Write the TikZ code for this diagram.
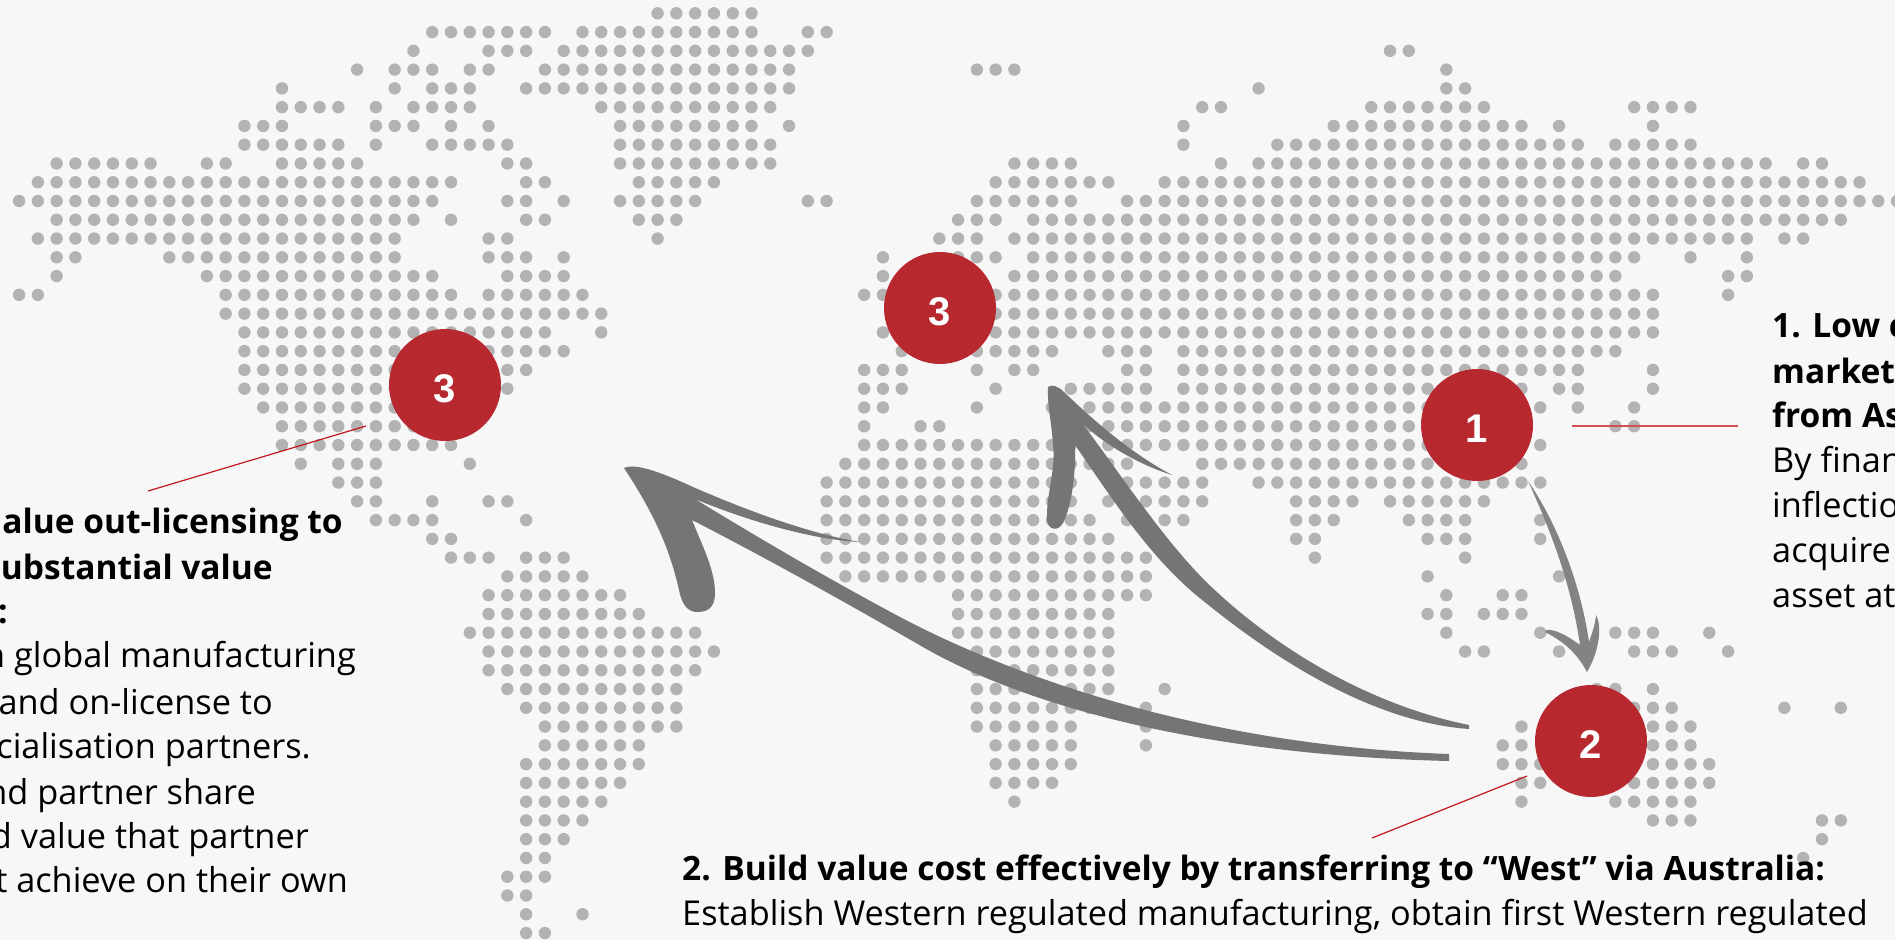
\documentclass[tikz,border=0pt]{standalone}
\usepackage{xcolor}
\usepackage{fontspec}
\setmainfont{Open Sans}
\newfontfamily\digitfont{Liberation Sans}
\definecolor{pagebg}{HTML}{F7F7F7}
\definecolor{mapgrey}{HTML}{B3B3B3}
\definecolor{inkgrey}{HTML}{757575}
\definecolor{bubblered}{HTML}{B7282F}
\definecolor{leadred}{HTML}{C4161F}
\begin{document}
\begin{tikzpicture}[x=1pt,y=-1pt,
    mapdot/.style={fill=mapgrey},
    stroke/.style={fill=inkgrey},
    bubble/.style={circle,fill=bubblered,text=white,inner sep=0pt,minimum size=112pt,text height=35pt,text depth=0pt,font=\digitfont\bfseries\fontsize{40}{40}\selectfont},
    leader/.style={draw=leadred,line width=1.2pt},
    headline/.style={inner sep=0pt,font=\bfseries\fontsize{33.5}{40}\selectfont},
    bodyline/.style={inner sep=0pt,font=\fontsize{34.3}{40}\selectfont}]
    %
    \useasboundingbox (0,0) rectangle (1895,940);
    \fill[pagebg] (0,0) rectangle (1895,940);
    %
    \foreach \r/\segs in {
        0/{34/39},
        1/{22/28,30/39,42/43},
        2/{21/21,25/27,29/42,73/74},
        3/{18/18,20/22,24/25,28/41,51/53,76/76},
        4/{14/14,20/20,22/24,27/41,66/66,76/77},
        5/{14/17,19/19,21/24,31/40,63/64,72/78,86/89},
        6/{12/14,19/21,23/23,25/25,32/39,41/41,62/62,70/80,82/82,87/87},
        7/{12/17,19/19,22/26,32/40,62/62,67/83,85/89},
        8/{2/7,10/11,14/18,26/27,32/40,53/56,64/64,66/93,95/96},
        9/{1/23,27/28,33/37,52/58,61/98},
        10/{0/22,26/27,29/29,32/36,42/43,51/56,59/100},
        11/{2/21,23/23,27/28,33/35,50/52,54/97},
        12/{1/20,25/26,34/34,49/51,53/92,94/95},
        13/{2/3,8/20,25/27,29/29,46/46,50/52,54/86,89/89,92/92},
        14/{2/2,10/22,26/29,46/46,53/85,91/92},
        15/{0/1,11/23,25/30,45/46,52/87,91/91},
        16/{11/31,52/87},
        17/{12/28,31/31,46/46,52/87},
        18/{12/29,47/47,51/55,58/60,62/85},
        19/{12/27,45/47,51/51,53/54,59/60,62/83,87/87},
        20/{12/26,45/47,52/52,56/60,62/80,82/83,87/87},
        21/{13/24,45/46,51/51,55/79,81/81,83/83,86/86},
        22/{14/22,45/45,48/49,56/78,85/86},
        23/{14/23,45/75,81/81},
        24/{15/15,17/19,24/24,44/59,63/80},
        25/{17/19,43/56,59/63,66/81},
        26/{18/19,22/22,25/26,43/56,58/63,68/71,73/78},
        27/{19/22,27/27,43/57,59/62,68/70,74/77,81/81},
        28/{22/23,43/58,68/69,75/77,81/81},
        29/{23/25,27/29,43/60,69/69,77/77},
        30/{26/30,44/60,75/75,82/82},
        31/{25/32,50/60,76/76,79/80},
        32/{25/33,50/58,75/76,78/80},
        33/{24/36,50/58,76/76,81/81,85/87,90/90},
        34/{25/37,51/58,77/78,82/82,86/88,91/91},
        35/{25/36,51/58},
        36/{26/35,51/58,61/61,84/85,87/87},
        37/{27/35,51/57,60/60,86/88,94/94,97/97},
        38/{28/35,51/56,60/60,80/80,87/89},
        39/{28/33,52/56,60/60,79/80,87/89},
        40/{27/33,52/56,79/81,87/90},
        41/{27/32,52/55,80/81,86/90},
        42/{27/31,53/53,80/80,85/89},
        43/{27/30,87/89,96/97},
        44/{27/29,96/96},
        45/{27/28,95/95},
        46/{26/28},
        47/{26/27},
        48/{27/27,30/30},
        49/{27/28}}
      \foreach \a/\b in \segs
        \foreach \c in {\a,...,\b}
          \fill[mapdot] ({19.07+18.78*\c},{13.3+18.77*\r}) circle (6.2);
    %
    % long stroke, Australia to America
    \fill[stroke] (624,468) .. controls (632,464) and (650,467) .. (693,487)
        .. controls (730,503) and (800,532) .. (860,542)
        .. controls (815,540) and (750,522) .. (695,499)
        .. controls (770,545) and (840,585) .. (900,617)
        .. controls (1010,675) and (1200,745) .. (1449,754) -- (1449,761)
        .. controls (1200,755) and (1020,705) .. (916,643)
        .. controls (850,605) and (770,560) .. (692,520)
        .. controls (702,545) and (715,570) .. (715,593)
        .. controls (715,610) and (705,612) .. (697,612)
        .. controls (688,612) and (682,605) .. (679,590)
        .. controls (670,550) and (655,515) .. (624,468) -- cycle;
    % short stroke, Australia to Europe
    \fill[stroke] (1048,387) .. controls (1052,384) and (1058,386) .. (1064,392)
        .. controls (1085,412) and (1125,450) .. (1172,475)
        .. controls (1140,465) and (1105,445) .. (1082,423)
        .. controls (1125,480) and (1170,550) .. (1218,593)
        .. controls (1280,650) and (1370,705) .. (1469,725) -- (1469,729)
        .. controls (1370,722) and (1270,655) .. (1206,603)
        .. controls (1150,560) and (1110,495) .. (1075,445)
        .. controls (1076,480) and (1070,510) .. (1063,523)
        .. controls (1058,532) and (1048,530) .. (1047,520)
        .. controls (1046,495) and (1056,470) .. (1053,445)
        .. controls (1052,425) and (1047,405) .. (1048,387) -- cycle;
    % thin stroke, Asia to Australia
    \fill[inkgrey!90!white] (1528,481) .. controls (1555,520) and (1580,580) .. (1589,642)
        .. controls (1593,630) and (1595,625) .. (1596,615)
        .. controls (1602,625) and (1600,650) .. (1587,672)
        .. controls (1578,655) and (1565,642) .. (1545,632)
        .. controls (1545,627) and (1560,630) .. (1580,645)
        .. controls (1572,590) and (1555,540) .. (1528,481) -- cycle;
    %
    \coordinate (westA) at (366,426);
    \coordinate (westB) at (148,491);
    \coordinate (eastA) at (1572,426);
    \coordinate (eastB) at (1738,426);
    \coordinate (southA) at (1527,776);
    \coordinate (southB) at (1372,838);
    \draw[leader] (westA) -- (westB);
    \draw[leader,line width=1.7pt,draw=leadred!75!white] (eastA) -- (eastB);
    \draw[leader] (southA) -- (southB);
    %
    \node[bubble] (one) at (1477,425) {1};
    \node[bubble] (two) at (1591,741) {2};
    \node[bubble] (threeA) at (445,385) {3};
    \node[bubble] (threeB) at (940,308) {3};
    %
    \node[headline,anchor=base east] (la) at (343,533) {alue out-licensing to};
    \node[headline,anchor=base east] (lb) at (273,579) {ubstantial value};
    \node[headline,anchor=base east] (lc) at (8,623) {:};
    \node[bodyline,anchor=base east] (ld) at (356,667) {n global manufacturing};
    \node[bodyline,anchor=base east] (le) at (273,714) {and on-license to};
    \node[bodyline,anchor=base east] (lf) at (311,758) {cialisation partners.};
    \node[bodyline,anchor=base east] (lg) at (256,804) {nd partner share};
    \node[bodyline,anchor=base east] (lh) at (309,848) {d value that partner};
    \node[bodyline,anchor=base east] (li) at (348,892) {t achieve on their own};
    %
    \node[headline,anchor=base west] (ba) at (682,880) {2. Build value cost effectively by transferring to “West” via Australia:};
    \node[bodyline,anchor=base west] (bb) at (682,925) {Establish Western regulated manufacturing, obtain first Western regulated};
    %
    \node[headline,anchor=base west] (ra) at (1772,337) {1. Low c};
    \node[headline,anchor=base west] (rb) at (1772,383) {market};
    \node[headline,anchor=base west] (rc) at (1772,427) {from As};
    \node[bodyline,anchor=base west] (rd) at (1772,472) {By finan};
    \node[bodyline,anchor=base west] (re) at (1772,517) {inflectio};
    \node[bodyline,anchor=base west] (rf) at (1772,562) {acquire};
    \node[bodyline,anchor=base west] (rg) at (1772,607) {asset at};
    %
\end{tikzpicture}
\end{document}
